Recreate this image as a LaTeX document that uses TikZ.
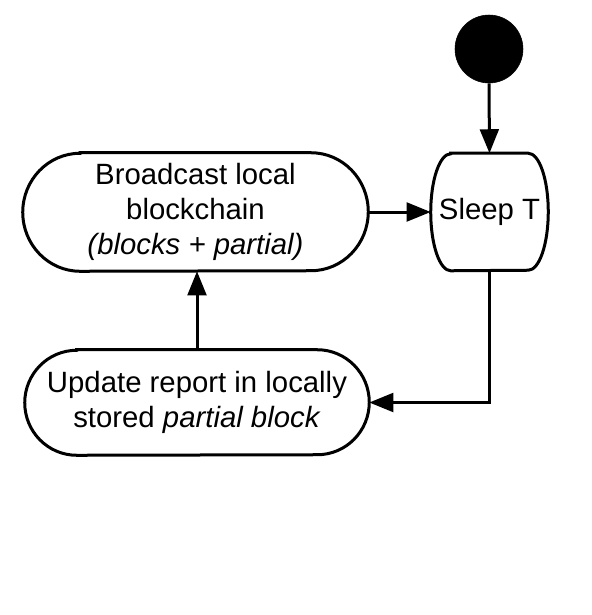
\documentclass[tikz,border=0pt]{standalone}
\usepackage{fontspec}
\setmainfont{Liberation Sans}
\usetikzlibrary{arrows.meta}
\newcommand\stadiumpath[3]{%
  \draw[shapeline] ([xshift=#2]#1.north west) -- ([xshift=-#2]#1.north east)
    arc[start angle=90,end angle=-90,x radius=#2,y radius=#3]
    -- ([xshift=#2]#1.south west)
    arc[start angle=270,end angle=90,x radius=#2,y radius=#3] -- cycle;}
\tikzset{
  shapeline/.style={line width=2.25pt},
  boxtext/.style={draw=none,rectangle,inner sep=0pt,align=center,
    font=\fontsize{22pt}{26.5pt}\selectfont},
  conn/.style={line width=2.25pt,-{Triangle[length=18pt,width=14pt]}},
}
\begin{document}
\begin{tikzpicture}[x=0.75pt,y=-0.75pt]
\useasboundingbox (0,0) rectangle (592,615);
\fill[white] (0,0) rectangle (592,615);
% start
\node[circle,fill=black,draw=black,minimum size=51pt,inner sep=0pt] (start) at (489,49) {};
% nodes
\node[boxtext,minimum width=258.75pt,minimum height=88.5pt] (bc) at (195.5,212)
  {Broadcast local\\blockchain\\\textit{(blocks + partial)}};
\node[boxtext,minimum width=87.75pt,minimum height=87.75pt] (sl) at (489.5,212) {Sleep T};
\node[boxtext,minimum width=258pt,minimum height=78.75pt] (up) at (197,402.5)
  {Update report in locally\\stored \textit{partial block}};
\stadiumpath{bc}{43pt}{44.25pt}
\stadiumpath{sl}{15pt}{43.875pt}
\stadiumpath{up}{39pt}{39.375pt}
% connectors
\draw[conn] (start.south) -- (sl.north);
\draw[conn] (bc.east) -- (sl.west);
\draw[conn] (sl.south) |- (up.east);
\draw[conn] (up.north) -- (up.north |- bc.south);
\end{tikzpicture}
\end{document}
